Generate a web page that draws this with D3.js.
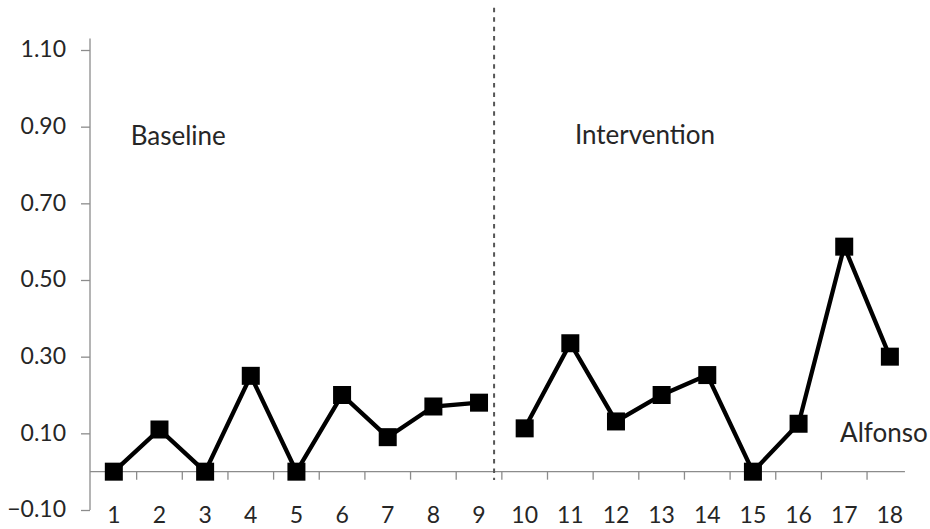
<!DOCTYPE html>
<html>
<head>
<meta charset="utf-8">
<script src="https://cdn.jsdelivr.net/npm/d3@7"></script>
<style>
  html, body { margin: 0; padding: 0; background: #fff; }
  svg { display: block; }
  text { font-family: Lato, "Open Sans", sans-serif; fill: #262626; }
</style>
</head>
<body>
<svg id="chart" width="930" height="529"></svg>
<script>
// ---- data ----
const baselineSessions = [1, 2, 3, 4, 5, 6, 7, 8, 9];
const baselineValues = [0, 0.11, 0, 0.25, 0, 0.20, 0.09, 0.17, 0.18];
const interventionSessions = [10, 11, 12, 13, 14, 15, 16, 17, 18];
const interventionValues = [0.113, 0.335, 0.131, 0.20, 0.252, 0, 0.125, 0.587, 0.30];
const xTickLabels = ["1","2","3","4","5","6","7","8","9","10","11","12","13","14","15","16","17","18"];
const yTickValues = [-0.10, 0.10, 0.30, 0.50, 0.70, 0.90, 1.10];
const phaseChange = 9.33;
const phaseLabels = [
  { text: "Baseline", x: 1.37, y: 0.852 },
  { text: "Intervention", x: 11.1, y: 0.856 }
];
const participant = { text: "Alfonso", x: 16.91, y: 0.078 };

// ---- scales ----
const svg = d3.select("#chart");
const x = d3.scaleLinear().domain([0.5, 18.5]).range([91, 912.7]);
const y = d3.scaleLinear().domain([-0.1, 1.1]).range([510, 50]);
const axisColor = "#8c8c8c";

// y axis
const yAxis = d3.axisLeft(y).tickValues(yTickValues).tickFormat(d3.format(".2f")).tickSize(9).tickPadding(15);
const gy = svg.append("g").attr("transform", "translate(90,0)").call(yAxis);
gy.select(".domain").remove();
gy.append("line").attr("x1", 0).attr("x2", 0).attr("y1", y(1.13)).attr("y2", y(-0.1))
  .attr("stroke", axisColor).attr("stroke-width", 1.3);
gy.selectAll(".tick line").attr("stroke", axisColor).attr("stroke-width", 1.3);
gy.selectAll(".tick text").style("font-size", "23px").attr("dy", "0.3em").attr("fill", "#262626");

// x axis (at y = 0)
const boundaries = d3.range(1.5, 18, 1);
const gx = svg.append("g").attr("transform", `translate(0,${y(0)})`);
gx.append("line").attr("x1", 90).attr("x2", x(18.33)).attr("y1", 0).attr("y2", 0)
  .attr("stroke", axisColor).attr("stroke-width", 1.3);
gx.selectAll("line.tk").data(boundaries).join("line").attr("class", "tk")
  .attr("x1", d => x(d)).attr("x2", d => x(d)).attr("y1", 0).attr("y2", 8)
  .attr("stroke", axisColor).attr("stroke-width", 1.3);
svg.append("g").selectAll("text").data(xTickLabels).join("text")
  .attr("x", (d, i) => x(i + 1)).attr("y", 522.5)
  .attr("text-anchor", "middle").style("font-size", "23px").text(d => d);

// phase change line
svg.append("line").attr("x1", x(phaseChange)).attr("x2", x(phaseChange))
  .attr("y1", y(1.21)).attr("y2", y(-0.022))
  .attr("stroke", "#555").attr("stroke-width", 2).attr("stroke-dasharray", "4.5 4.9");

// series
const line = d3.line().x(d => x(d[0])).y(d => y(d[1]));
const phases = [
  d3.zip(baselineSessions, baselineValues),
  d3.zip(interventionSessions, interventionValues)
];
phases.forEach(pts => {
  svg.append("path").datum(pts).attr("d", line).attr("fill", "none")
    .attr("stroke", "#000").attr("stroke-width", 4.3).attr("stroke-linejoin", "miter");
  svg.append("g").selectAll("rect").data(pts).join("rect")
    .attr("x", d => x(d[0]) - 9).attr("y", d => y(d[1]) - 9)
    .attr("width", 18).attr("height", 18).attr("fill", "#000");
});

// labels
svg.append("g").selectAll("text").data(phaseLabels.concat([participant])).join("text")
  .attr("x", d => x(d.x)).attr("y", d => y(d.y))
  .style("font-size", "26px").text(d => d.text);
</script>
</body>
</html>
